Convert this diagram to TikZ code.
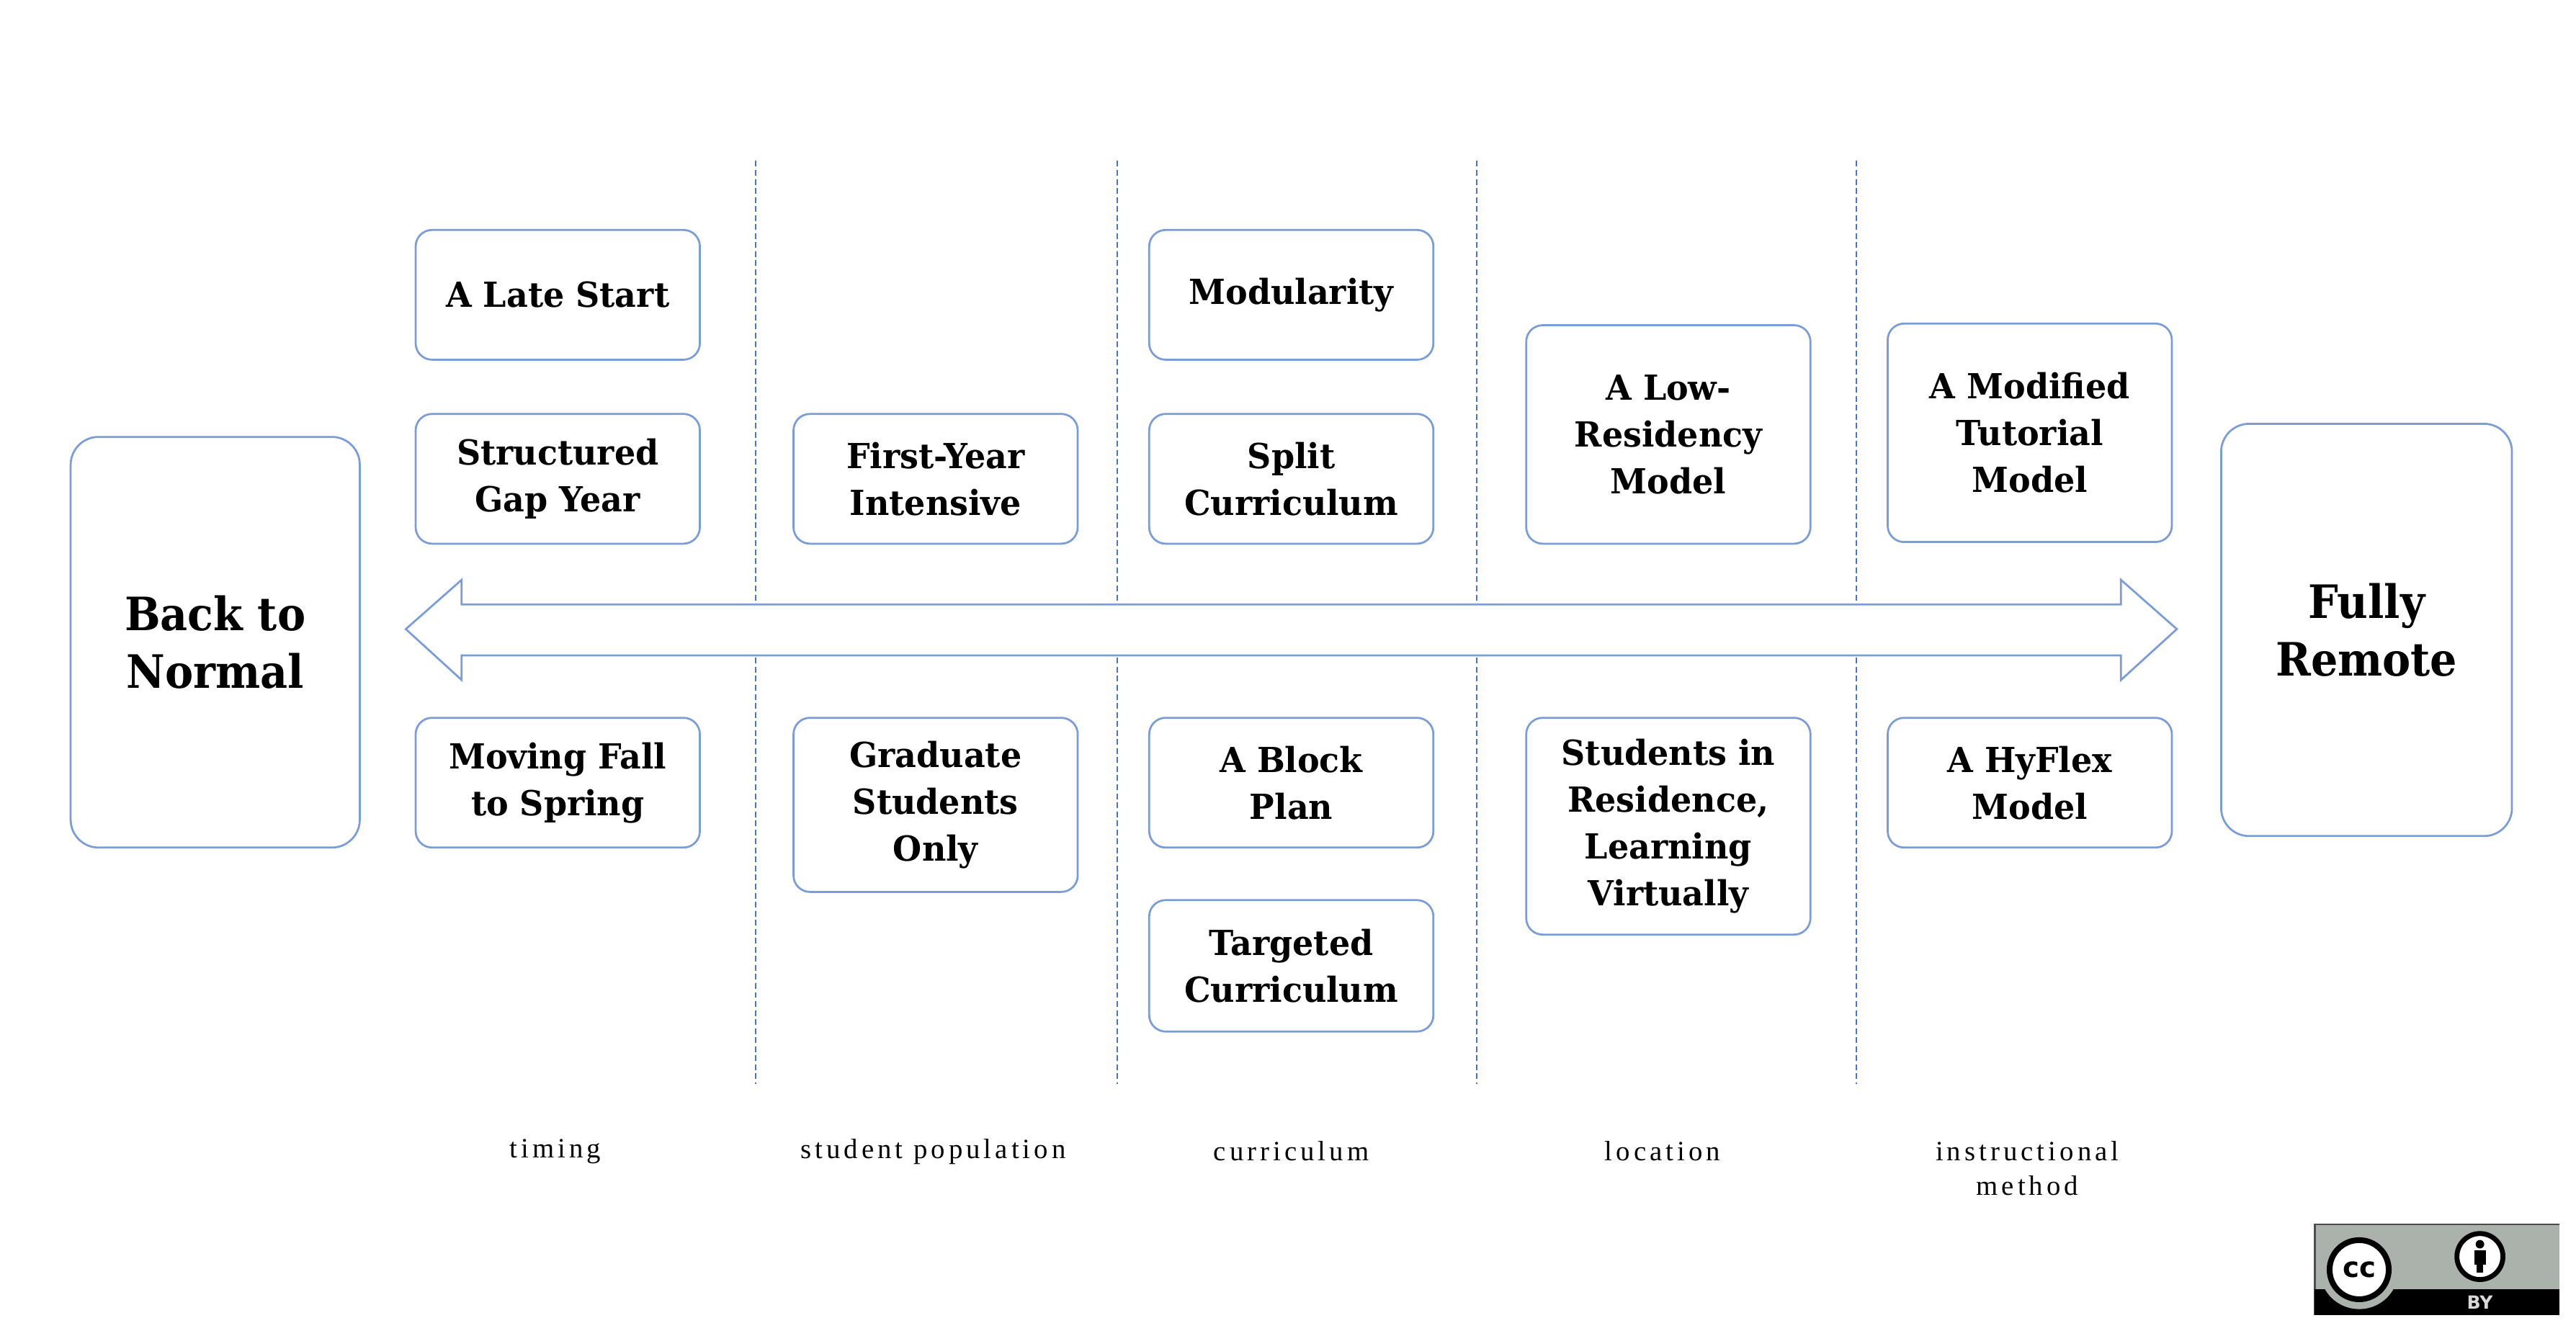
\documentclass[tikz,border=0pt]{standalone}
\usepackage{fontspec}
\setmainfont{DejaVu Serif}
\newfontfamily\boxfont[FakeStretch=0.96]{DejaVu Serif}
\newfontfamily\endfont[FakeStretch=0.92]{DejaVu Serif}
\newfontfamily\catfont[LetterSpace=13]{Liberation Serif}
\newfontfamily\badgefont{DejaVu Sans}
\usetikzlibrary{positioning}
\definecolor{boxblue}{HTML}{7A9DDA}
\definecolor{lineblue}{HTML}{4A74C8}
\definecolor{badgegray}{HTML}{AAB2AB}
\tikzset{
    option/.style={draw=boxblue, line width=1.2pt, rounded corners=10pt,
        minimum width=173pt, minimum height=79pt, inner sep=0pt,
        align=center, font=\boxfont\bfseries\fontsize{21}{28.5}\selectfont},
    endbox/.style={option, rounded corners=17pt, minimum width=176pt,
        minimum height=250pt, font=\endfont\bfseries\fontsize{28}{35}\selectfont},
    category/.style={align=center, inner sep=0pt,
        font=\catfont\fontsize{17}{21}\selectfont}
}

\begin{document}
\begin{tikzpicture}[x=1pt, y=-1pt]
    \useasboundingbox (0, 0) rectangle (1568, 813);
    % dividers between the categories
    \foreach \xd in {460, 680, 899, 1130} {
        \draw[lineblue, line width=0.9pt, dash pattern=on 3.5pt off 2pt] (\xd, 98) -- (\xd, 660);
    }
    % the range from one end to the other
    \draw[boxblue, line width=1.2pt, fill=white, line join=miter]
        (247, 383) -- (281, 353) -- (281, 368) -- (1291, 368) -- (1291, 353)
        -- (1325, 383) -- (1291, 414) -- (1291, 399) -- (281, 399) -- (281, 414) -- cycle;
    \node[endbox] (normal) at (131, 391) {Back to\\Normal};
    \node[endbox, minimum width=177pt, minimum height=251pt] (remote) at (1440.5, 383.5) {Fully\\Remote};
    % timing
    \node[option] (latestart) at (339.5, 179.5) {A Late Start};
    \node[option] (gapyear) at (339.5, 291.5) {Structured\\Gap Year};
    \node[option] (fallspring) at (339.5, 476.5) {Moving Fall\\to Spring};
    % student population
    \node[option] (firstyear) at (569.5, 291.5) {First-Year\\Intensive};
    \node[option, minimum height=106pt] (graduate) at (569.5, 490) {Graduate\\Students\\Only};
    % curriculum
    \node[option] (modularity) at (786, 179.5) {Modularity};
    \node[option] (split) at (786, 291.5) {Split\\Curriculum};
    \node[option] (block) at (786, 476.5) {A Block\\Plan};
    \node[option, minimum height=80pt] (targeted) at (786, 588) {Targeted\\Curriculum};
    % location
    \node[option, minimum height=133pt] (lowres) at (1015.5, 264.5) {A Low-\\Residency\\Model};
    \node[option, minimum height=132pt] (residence) at (1015.5, 503) {Students in\\Residence,\\Learning\\Virtually};
    % instructional method
    \node[option, minimum height=133pt] (tutorial) at (1235.5, 263.5) {A Modified\\Tutorial\\Model};
    \node[option] (hyflex) at (1235.5, 476.5) {A HyFlex\\Model};
    % category names
    \node[category] (timing) at (338, 701) {timing};
    \node[category] (population) at (568, 701) {student population};
    \node[category] (curriculum) at (786, 701) {curriculum};
    \node[category] (location) at (1012, 701) {location};
    \node[category] (method) at (1234, 711.5) {instructional\\method};
    % licence badge
    \fill[badgegray] (1409, 745.5) rectangle (1558, 800.5);
    \draw[black!70, line width=1pt] (1409, 800.5) -- (1409, 745.5) -- (1558, 745.5);
    \fill[black] (1409, 785) rectangle (1558, 800.5);
    \fill[badgegray] (1436, 773) circle (24);
    \draw[black, line width=3.5pt, fill=white] (1436, 773) circle (18);
    \node[font=\badgefont\bfseries\fontsize{17}{17}\selectfont, inner sep=0pt] (cc) at (1436, 773) {cc};
    \draw[black, line width=3pt, fill=white] (1509.5, 765) circle (14);
    \fill[black] (1509.5, 757.5) circle (2.6);
    \fill[black] (1506, 761) rectangle (1513, 770);
    \fill[black] (1507.5, 769) rectangle (1511.5, 775);
    \node[font=\badgefont\bfseries\fontsize{11}{11}\selectfont, text=white!85!black, inner sep=0pt] (by) at (1509.5, 793) {BY};
\end{tikzpicture}
\end{document}
